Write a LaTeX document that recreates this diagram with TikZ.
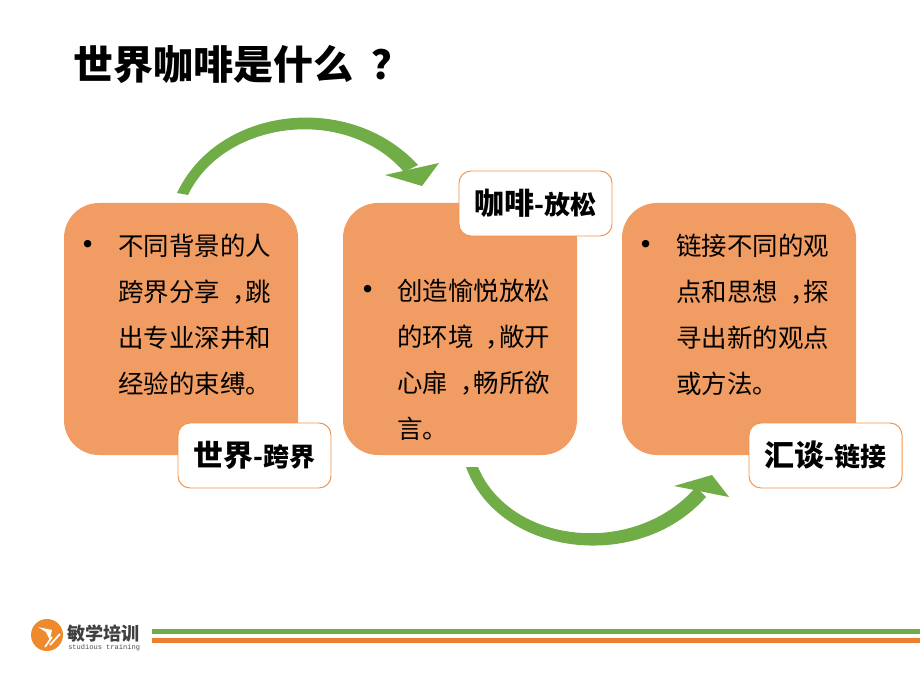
\documentclass[tikz,border=0pt]{standalone}
\usepackage{fontspec}
\setmainfont{Noto Sans CJK SC}
\setmonofont{Liberation Mono}
\definecolor{boxorange}{HTML}{F19C63}
\definecolor{edgeorange}{HTML}{F0944F}
\definecolor{linegreen}{HTML}{70AD47}
\definecolor{lineorange}{HTML}{ED7D31}
\tikzset{
  topicbox/.style={fill=boxorange,rounded corners=.875cm,minimum width=5.85cm,minimum height=6.3cm,inner sep=0pt},
  tagbox/.style={draw=edgeorange,line width=.7pt,fill=white,rounded corners=.3cm,minimum width=3.825cm,minimum height=1.625cm,inner sep=0pt},
  bodytext/.style={anchor=north west,align=left,inner sep=0pt,font=\fontsize{18.1}{32.7}\selectfont},
  dot/.style={inner sep=0pt,font=\fontsize{25}{25}\selectfont},
  curvearrow/.style={fill=linegreen},
}
\newcommand{\tagtext}[2]{{\bfseries\fontsize{21.3}{24}\selectfont #1\fontsize{18.5}{24}\selectfont -#2}}
\newcommand{\midmark}[2]{\hspace{#1}#2\hspace{-#1}}
\begin{document}
\begin{tikzpicture}
\useasboundingbox (0,0) rectangle (23,17.25);
\node[anchor=west,inner sep=0pt,font=\bfseries\fontsize{28.45}{32}\selectfont] (title) at (1.825,15.65) {世界咖啡是什么\midmark{.45em}{？}};
\node[topicbox] (world) at (4.525,9.025) {};
\node[topicbox] (coffee) at (11.5,9.025) {};
\node[topicbox] (talk) at (18.475,9.025) {};
\node[dot] (worlddot) at (2.2,11.025) {•};
\node[dot] (coffeedot) at (9.2,9.9) {•};
\node[dot] (talkdot) at (16.15,11.025) {•};
\node[bodytext] (worldtext) at (2.95,11.4) {不同背景的人\\跨界分享\midmark{.47em}{，}跳\\出专业深井和\\经验的束缚。};
\node[bodytext] (coffeetext) at (9.925,10.275) {创造愉悦放松\\的环境\midmark{.47em}{，}敞开\\心扉\midmark{.47em}{，}畅所欲\\言。};
\node[bodytext] (talktext) at (16.9,11.4) {链接不同的观\\点和思想\midmark{.47em}{，}探\\寻出新的观点\\或方法。};
\node[tagbox] (worldtag) at (6.3625,5.8625) {\tagtext{世界}{跨界}};
\node[tagbox] (coffeetag) at (13.3875,12.1625) {\tagtext{咖啡}{放松}};
\node[tagbox] (talktag) at (20.6375,5.8625) {\tagtext{汇谈}{链接}};
\fill[curvearrow] (4.425,12.425) .. controls (5.45,14.6) and (8.75,14.975) .. (10.45,13.125) -- (10.1,12.95) .. controls (8.65,14.625) and (5.6,14.25) .. (4.7,12.375) -- cycle;
\fill[curvearrow] (9.625,12.875) -- (10.975,13.175) -- (10.55,12.6) -- cycle;
\fill[curvearrow] (11.65,5.575) .. controls (12.45,3.35) and (15.95,2.9) .. (17.65,4.825) -- (17.4,5.075) .. controls (15.85,3.3) and (12.75,3.65) .. (11.95,5.575) -- cycle;
\fill[curvearrow] (16.85,5.1) -- (17.8,5.375) -- (18.225,4.825) -- cycle;
\node[circle,fill=lineorange!90!yellow,minimum size=.8cm,inner sep=0pt] (logo) at (1.175,1.375) {};
\fill[white] (.95,1.575) -- (1.3,1.5) -- (1.25,1.25) -- (1.15,1.45) -- cycle;
\draw[white,line width=1.2pt] (1.125,1.075) -- (1.3,1.325);
\draw[white,line width=1.2pt] (1.25,1.125) -- (1.5,1.4);
\node[anchor=west,inner sep=0pt,text=black!75,font=\bfseries\fontsize{12.9}{14}\selectfont] (brand) at (1.675,1.42) {敏学培训};
\node[anchor=west,inner sep=0pt,text=black!70,font=\ttfamily\fontsize{5}{6}\selectfont] (brandlatin) at (1.7,1.05) {studious training};
\coordinate (greenleft) at (3.8,1.4625);
\coordinate (greenright) at (23,1.4625);
\coordinate (orangeleft) at (3.8,1.25);
\coordinate (orangeright) at (23,1.25);
\draw[linegreen,line width=.125cm] (greenleft) -- (greenright);
\draw[lineorange,line width=.125cm] (orangeleft) -- (orangeright);
\end{tikzpicture}
\end{document}
